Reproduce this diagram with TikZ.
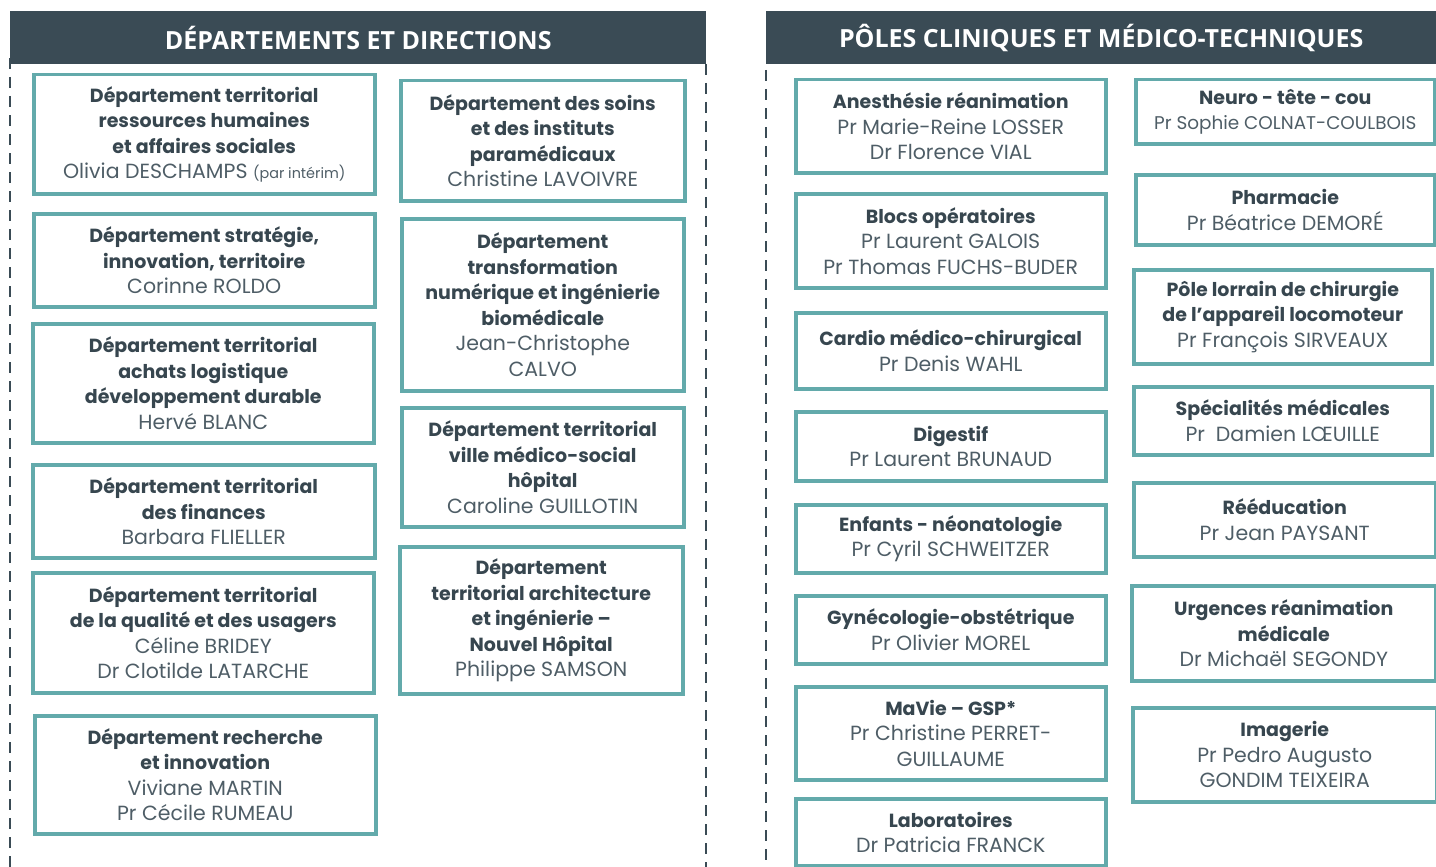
\documentclass[tikz,border=0pt]{standalone}
\usepackage{fontspec}
\setmainfont{Poppins}
\newfontfamily\hdfont{Open Sans}
\definecolor{hdr}{HTML}{3A4B55}
\definecolor{bxc}{HTML}{63AAAB}
\definecolor{ttl}{HTML}{37464F}
\definecolor{nmc}{HTML}{4E5D66}
\newcommand\nm[1]{{\color{nmc}\mdseries\fontsize{20.5}{25.5}\selectfont #1}}
\newcommand\tl[1]{{\bfseries #1}}
\tikzset{
  bx/.style={draw=bxc, line width=3.5pt, anchor=north west, align=center, inner sep=0pt,
    font=\fontsize{19}{25.5}\selectfont, text=ttl},
  hd/.style={fill=hdr, anchor=north west, inner sep=0pt, text=white,
    font=\hdfont\bfseries\fontsize{25}{28}\selectfont},
  dl/.style={draw=hdr, line width=2.8pt, dash pattern=on 11pt off 8pt}
}
\begin{document}
\begin{tikzpicture}[x=1pt,y=-1pt]
\useasboundingbox (0,0) rectangle (1436,867);
% headers
\node[hd, minimum width=696, minimum height=53] (hL) at (10,11) {DÉPARTEMENTS ET DIRECTIONS};
\node[hd, minimum width=670, minimum height=53, yshift=-1pt] (hR) at (766,10) {PÔLES CLINIQUES ET MÉDICO-TECHNIQUES};
% dashed lines
\coordinate (d1a) at (10,58);  \coordinate (d1b) at (10,867);
\coordinate (d2a) at (706,64); \coordinate (d2b) at (706,867);
\coordinate (d3a) at (766,70); \coordinate (d3b) at (766,867);
\draw[dl] (d1a) -- (d1b);
\draw[dl] (d2a) -- (d2b);
\draw[dl] (d3a) -- (d3b);
% left column 1
\node[bx, minimum width=341, minimum height=119] (L1) at (32,73)
 {\tl{Département territorial}\\\tl{ressources humaines}\\\tl{et affaires sociales}\\\nm{Olivia DESCHAMPS {\fontsize{14.4}{15}\selectfont (par intérim)}}};
\node[bx, minimum width=341, minimum height=93] (L2) at (32,212)
 {\tl{Département stratégie,}\\\tl{innovation, territoire}\\\nm{Corinne ROLDO}};
\node[bx, minimum width=341, minimum height=119] (L3) at (31,322)
 {\tl{Département territorial}\\\tl{achats logistique}\\\tl{développement durable}\\\nm{Hervé BLANC}};
\node[bx, minimum width=342, minimum height=93] (L4) at (31,463)
 {\tl{Département territorial}\\\tl{des finances}\\\nm{Barbara FLIELLER}};
\node[bx, minimum width=341, minimum height=120] (L5) at (31,571)
 {\tl{Département territorial}\\\tl{de la qualité et des usagers}\\\nm{Céline BRIDEY}\\\nm{Dr Clotilde LATARCHE}};
\node[bx, minimum width=341, minimum height=118] (L6) at (33,714)
 {\tl{Département recherche}\\\tl{et innovation}\\\nm{Viviane MARTIN}\\\nm{Pr Cécile RUMEAU}};
% left column 2
\node[bx, minimum width=284, minimum height=120] (L7) at (399,79)
 {\tl{Département des soins}\\\tl{et des instituts}\\\tl{paramédicaux}\\\nm{Christine LAVOIVRE}};
\node[bx, minimum width=282, minimum height=172] (L8) at (400,217)
 {\tl{Département}\\\tl{transformation}\\\tl{numérique et ingénierie}\\\tl{biomédicale}\\\nm{Jean-Christophe}\\\nm{CALVO}};
\node[bx, minimum width=282, minimum height=119] (L9) at (400,406)
 {\tl{Département territorial}\\\tl{ville médico-social}\\\tl{hôpital}\\\nm{Caroline GUILLOTIN}};
\node[bx, minimum width=283, minimum height=147] (L10) at (398,545)
 {\tl{Département}\\\tl{territorial architecture}\\\tl{et ingénierie –}\\\tl{Nouvel Hôpital}\\\nm{Philippe SAMSON}};
% right column 1
\node[bx, minimum width=310, minimum height=93] (R1) at (794,78)
 {\tl{Anesthésie réanimation}\\\nm{Pr Marie-Reine LOSSER}\\\nm{Dr Florence VIAL}};
\node[bx, minimum width=310, minimum height=94] (R2) at (794,192)
 {\tl{Blocs opératoires}\\\nm{Pr Laurent GALOIS}\\\nm{Pr Thomas FUCHS-BUDER}};
\node[bx, minimum width=310, minimum height=76] (R3) at (794,311)
 {\tl{Cardio médico-chirurgical}\\\nm{Pr Denis WAHL}};
\node[bx, minimum width=310, minimum height=69] (R4) at (794,410)
 {\tl{Digestif}\\\nm{Pr Laurent BRUNAUD}};
\node[bx, minimum width=310, minimum height=68] (R5) at (794,503)
 {\tl{Enfants - néonatologie}\\\nm{Pr Cyril SCHWEITZER}};
\node[bx, minimum width=310, minimum height=68] (R6) at (794,594)
 {\tl{Gynécologie-obstétrique}\\\nm{Pr Olivier MOREL}};
\node[bx, minimum width=310, minimum height=93] (R7) at (794,685)
 {\tl{MaVie – GSP*}\\\nm{Pr Christine PERRET-}\\\nm{GUILLAUME}};
\node[bx, minimum width=310, minimum height=67] (R8) at (794,797)
 {\tl{Laboratoires}\\\nm{Dr Patricia FRANCK}};
% right column 2
\node[bx, minimum width=299, minimum height=64] (S1) at (1134,78)
 {\tl{Neuro - tête - cou}\\{\color{nmc}\fontsize{18.4}{20}\selectfont Pr Sophie COLNAT-COULBOIS}};
\node[bx, minimum width=299, minimum height=70] (S2) at (1134,173)
 {\tl{Pharmacie}\\\nm{Pr Béatrice DEMORÉ}};
\node[bx, minimum width=298, minimum height=94] (S3) at (1132,268)
 {\tl{Pôle lorrain de chirurgie}\\\tl{de l’appareil locomoteur}\\\nm{Pr François SIRVEAUX}};
\node[bx, minimum width=298, minimum height=68] (S4) at (1132,385)
 {\tl{Spécialités médicales}\\\nm{Pr\ \ Damien LŒUILLE}};
\node[bx, minimum width=302, minimum height=74] (S5) at (1132,481)
 {\tl{Rééducation}\\\nm{Pr Jean PAYSANT}};
\node[bx, minimum width=304, minimum height=95] (S6) at (1130,584)
 {\tl{Urgences réanimation}\\\tl{médicale}\\\nm{Dr Michaël SEGONDY}};
\node[bx, minimum width=304, minimum height=94] (S7) at (1131,706)
 {\tl{Imagerie}\\\nm{Pr Pedro Augusto}\\\nm{GONDIM TEIXEIRA}};
\end{tikzpicture}
\end{document}
